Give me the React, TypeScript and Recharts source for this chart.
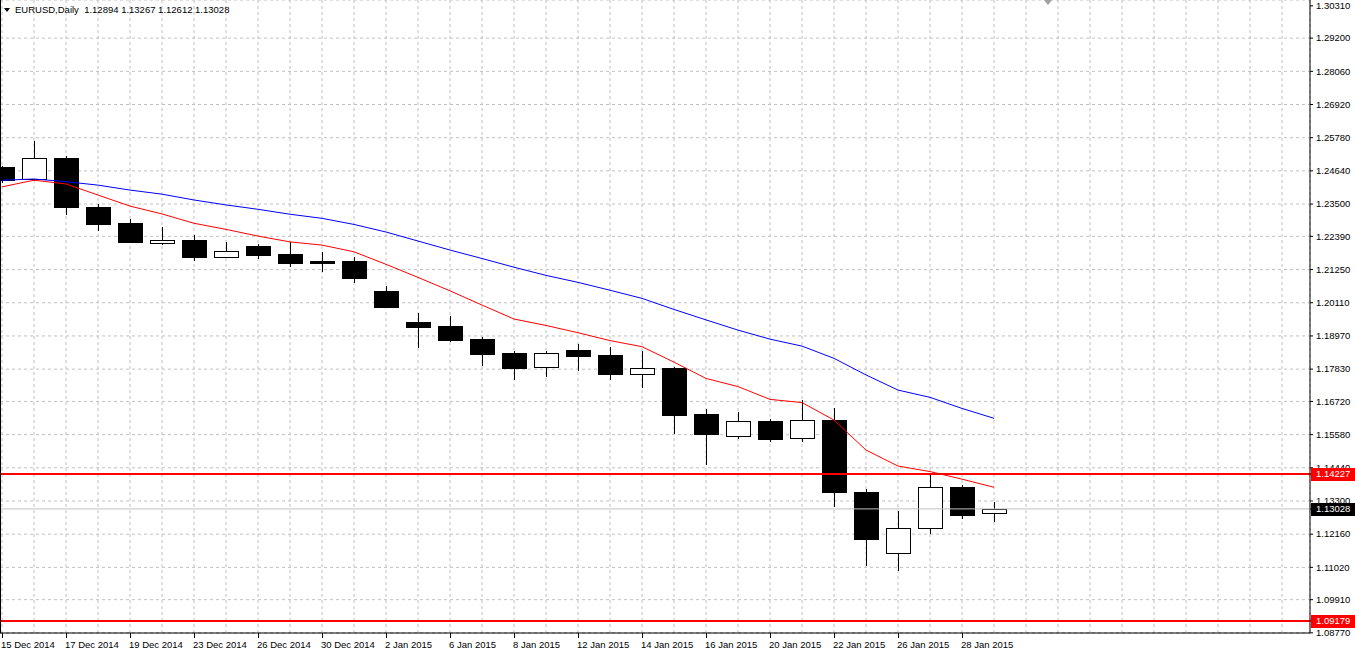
import React from "react";
import {
  ComposedChart,
  Bar,
  Line,
  XAxis,
  YAxis,
  CartesianGrid,
  ReferenceLine,
} from "recharts";

// EURUSD daily bars, 15 Dec 2014 .. 29 Jan 2015
const dates = [
  "15 Dec 2014", "16 Dec 2014", "17 Dec 2014", "18 Dec 2014", "19 Dec 2014",
  "22 Dec 2014", "23 Dec 2014", "24 Dec 2014", "26 Dec 2014", "29 Dec 2014",
  "30 Dec 2014", "31 Dec 2014", "2 Jan 2015", "5 Jan 2015", "6 Jan 2015",
  "7 Jan 2015", "8 Jan 2015", "9 Jan 2015", "12 Jan 2015", "13 Jan 2015",
  "14 Jan 2015", "15 Jan 2015", "16 Jan 2015", "19 Jan 2015", "20 Jan 2015",
  "21 Jan 2015", "22 Jan 2015", "23 Jan 2015", "26 Jan 2015", "27 Jan 2015",
  "28 Jan 2015", "29 Jan 2015",
];

const opens = [
  1.2476, 1.2435, 1.2508, 1.2340, 1.2285, 1.2217, 1.2226, 1.2169, 1.2206, 1.2178,
  1.2154, 1.2154, 1.2051, 1.1945, 1.1931, 1.1886, 1.1838, 1.1789, 1.1849, 1.1831,
  1.1767, 1.1787, 1.1629, 1.1552, 1.1605, 1.1545, 1.1607, 1.1360, 1.1150, 1.1236,
  1.1378, 1.12894,
];
const highs = [
  1.2480, 1.2566, 1.2515, 1.2350, 1.2299, 1.2272, 1.2243, 1.2219, 1.2212, 1.2220,
  1.2185, 1.2169, 1.2069, 1.1976, 1.1965, 1.1893, 1.1845, 1.1845, 1.1869, 1.1860,
  1.1846, 1.1791, 1.1646, 1.1637, 1.1613, 1.1677, 1.1648, 1.1371, 1.1296, 1.1422,
  1.1384, 1.13267,
];
const lows = [
  1.2425, 1.2433, 1.2316, 1.2261, 1.2219, 1.2212, 1.2158, 1.2167, 1.2166, 1.2137,
  1.2121, 1.2081, 1.1996, 1.1860, 1.1880, 1.1798, 1.1750, 1.1759, 1.1780, 1.1750,
  1.1721, 1.1565, 1.1457, 1.1547, 1.1537, 1.1537, 1.1314, 1.1110, 1.1093, 1.1221,
  1.1273, 1.12612,
];
const closes = [
  1.2432, 1.2507, 1.2341, 1.2282, 1.2220, 1.2226, 1.2169, 1.2188, 1.2175, 1.2148,
  1.2148, 1.2097, 1.1997, 1.1929, 1.1884, 1.1836, 1.1788, 1.1837, 1.1829, 1.1767,
  1.1787, 1.1626, 1.1561, 1.1604, 1.1544, 1.1607, 1.1362, 1.1200, 1.1236, 1.1378,
  1.1283, 1.13028,
];

// moving averages (red = fast, blue = slow)
const maFast = [
  1.2409, 1.2432, 1.2419, 1.2381, 1.2343, 1.2316, 1.2284, 1.2263, 1.2240, 1.2220,
  1.2209, 1.2186, 1.2143, 1.2098, 1.2052, 1.2003, 1.1955, 1.1933, 1.1908, 1.1881,
  1.1860, 1.1807, 1.1751, 1.1723, 1.1679, 1.1668, 1.1608, 1.1505, 1.1450, 1.1431,
  1.1405, 1.1377,
];
const maSlow = [
  1.2432, 1.2436, 1.2427, 1.2415, 1.2398, 1.2384, 1.2364, 1.2347, 1.2332, 1.2315,
  1.2301, 1.2280, 1.2254, 1.2223, 1.2192, 1.2163, 1.2133, 1.2105, 1.2081, 1.2054,
  1.2026, 1.1988, 1.1952, 1.1917, 1.1886, 1.1862, 1.1820, 1.1763, 1.1711, 1.1686,
  1.1648, 1.1614,
];

const priceTicks = [
  1.3031, 1.292, 1.2806, 1.2692, 1.2578, 1.2464, 1.235, 1.2239, 1.2125, 1.2011,
  1.1897, 1.1783, 1.1672, 1.1558, 1.1444, 1.133, 1.1216, 1.1102, 1.0991, 1.0877,
];
const levels = [1.14227, 1.09179];
const bid = 1.13028;

const SLOTS = 41; // bar slots shown, incl. the chart shift on the right
const slotTicks = Array.from({ length: SLOTS }, (_, i) => i);

const rows = dates.map((date, i) => ({
  i,
  date,
  open: opens[i],
  high: highs[i],
  low: lows[i],
  close: closes[i],
  range: [lows[i], highs[i]],
  maFast: maFast[i],
  maSlow: maSlow[i],
}));

const FONT = "'Liberation Sans', Arial, sans-serif";

function Candle(props: any) {
  const { x, y, width, height, payload } = props;
  if (x == null || y == null || !payload) return null;
  const top = Math.min(y, y + height);
  const bottom = Math.max(y, y + height);
  const span = payload.high - payload.low || 1;
  const py = (v: number) => top + ((payload.high - v) / span) * (bottom - top);
  const cx = Math.round(x + width / 2) + 0.5;
  const bTop = Math.round(Math.min(py(payload.open), py(payload.close))) + 0.5;
  const bBot = Math.round(Math.max(py(payload.open), py(payload.close))) + 0.5;
  const bear = payload.close < payload.open;
  return (
    <g>
      <line x1={cx} x2={cx} y1={Math.round(top)} y2={Math.round(bottom) + 1} stroke="#000" />
      {bBot - bTop < 1 ? (
        <line x1={cx - 12} x2={cx + 12} y1={bTop} y2={bTop} stroke="#000" />
      ) : (
        <rect
          x={cx - 12}
          y={bTop}
          width={24}
          height={bBot - bTop}
          fill={bear ? "#000" : "#fff"}
          stroke="#000"
        />
      )}
    </g>
  );
}

function DateTick(props: any) {
  const { x, y, payload } = props;
  const idx = payload.value;
  if (idx % 2 !== 0 || idx >= dates.length) return null;
  const px = Math.round(x) + 0.5;
  return (
    <g>
      <line x1={px} x2={px} y1={y - 8} y2={y - 3} stroke="#000" />
      <text x={x - 1} y={y} dy="0.71em" textAnchor="start" fontSize={9.5} fontFamily={FONT} fill="#000">
        {dates[idx]}
      </text>
    </g>
  );
}

function PriceTick(props: any) {
  const { x, y, payload } = props;
  const v = payload.value;
  const isLevel = levels.includes(v);
  const isBid = v === bid;
  const label = v.toFixed(5);
  if (isLevel || isBid) {
    return (
      <g>
        <rect x={x - 5} y={Math.round(y) - 6} width={44} height={13} fill={isLevel ? "#ff0000" : "#000"} />
        <text x={x} y={y} dy="0.35em" fontSize={9.5} fontFamily={FONT} fill="#fff" textAnchor="start">
          {label}
        </text>
      </g>
    );
  }
  return (
    <text x={x} y={y} dy="0.35em" fontSize={9.5} fontFamily={FONT} fill="#000" textAnchor="start">
      {label}
    </text>
  );
}

export default function App() {
  const yDomain = [1.08765, 1.3051];
  const xDomain = [-0.0625, 40.875];
  return (
    <div style={{ position: "relative", width: 1355, height: 656, background: "#fff", overflow: "hidden" }}>
      <style>{"body{margin:0}"}</style>
      <ComposedChart width={1355} height={656} data={rows} margin={{ top: 0, right: 0, bottom: 0, left: 0 }}>
        <CartesianGrid yAxisId="grid" stroke="#c0c0c0" strokeDasharray="3 3" />
        <XAxis
          type="number"
          dataKey="i"
          domain={xDomain}
          allowDataOverflow
          ticks={slotTicks}
          interval={0}
          height={23}
          tickLine={false}
          tickSize={4}
          tickMargin={4}
          axisLine={{ stroke: "#000" }}
          tick={<DateTick />}
        />
        <YAxis
          yAxisId="price"
          orientation="right"
          type="number"
          domain={yDomain}
          allowDataOverflow
          ticks={[...priceTicks, bid, ...levels]}
          interval={0}
          width={45}
          tickSize={3}
          tickMargin={3}
          tickLine={{ stroke: "#000" }}
          axisLine={{ stroke: "#000" }}
          tick={<PriceTick />}
        />
        <YAxis
          yAxisId="grid"
          orientation="right"
          type="number"
          domain={yDomain}
          allowDataOverflow
          ticks={priceTicks}
          width={0}
          hide
        />
        <ReferenceLine yAxisId="price" y={bid} stroke="#c0c0c0" strokeWidth={1} />
        <Bar yAxisId="price" dataKey="range" barSize={24} shape={<Candle />} isAnimationActive={false} />
        <Line yAxisId="price" type="linear" dataKey="maSlow" stroke="#0000ff" strokeWidth={1} dot={false} isAnimationActive={false} />
        <Line yAxisId="price" type="linear" dataKey="maFast" stroke="#ff0000" strokeWidth={1} dot={false} isAnimationActive={false} />
        {levels.map((lv) => (
          <ReferenceLine key={lv} yAxisId="price" y={lv} stroke="#ff0000" strokeWidth={2} />
        ))}
      </ComposedChart>
      <div style={{ position: "absolute", left: 0, top: 0, width: 1, height: 633, background: "#000" }} />
      <div
        style={{
          position: "absolute",
          left: 1044,
          top: 0,
          width: 0,
          height: 0,
          borderLeft: "4px solid transparent",
          borderRight: "4px solid transparent",
          borderTop: "5px solid #a0a0a0",
        }}
      />
      <div
        style={{
          position: "absolute",
          left: 4,
          top: 4,
          fontFamily: FONT,
          fontSize: 9.5,
          lineHeight: "12px",
          color: "#000",
          whiteSpace: "pre",
          display: "flex",
          alignItems: "center",
        }}
      >
        <span
          style={{
            display: "inline-block",
            width: 0,
            height: 0,
            borderLeft: "3.5px solid transparent",
            borderRight: "3.5px solid transparent",
            borderTop: "4px solid #000",
            marginRight: 5,
          }}
        />
        <span>{"EURUSD,Daily  1.12894 1.13267 1.12612 1.13028"}</span>
      </div>
    </div>
  );
}
